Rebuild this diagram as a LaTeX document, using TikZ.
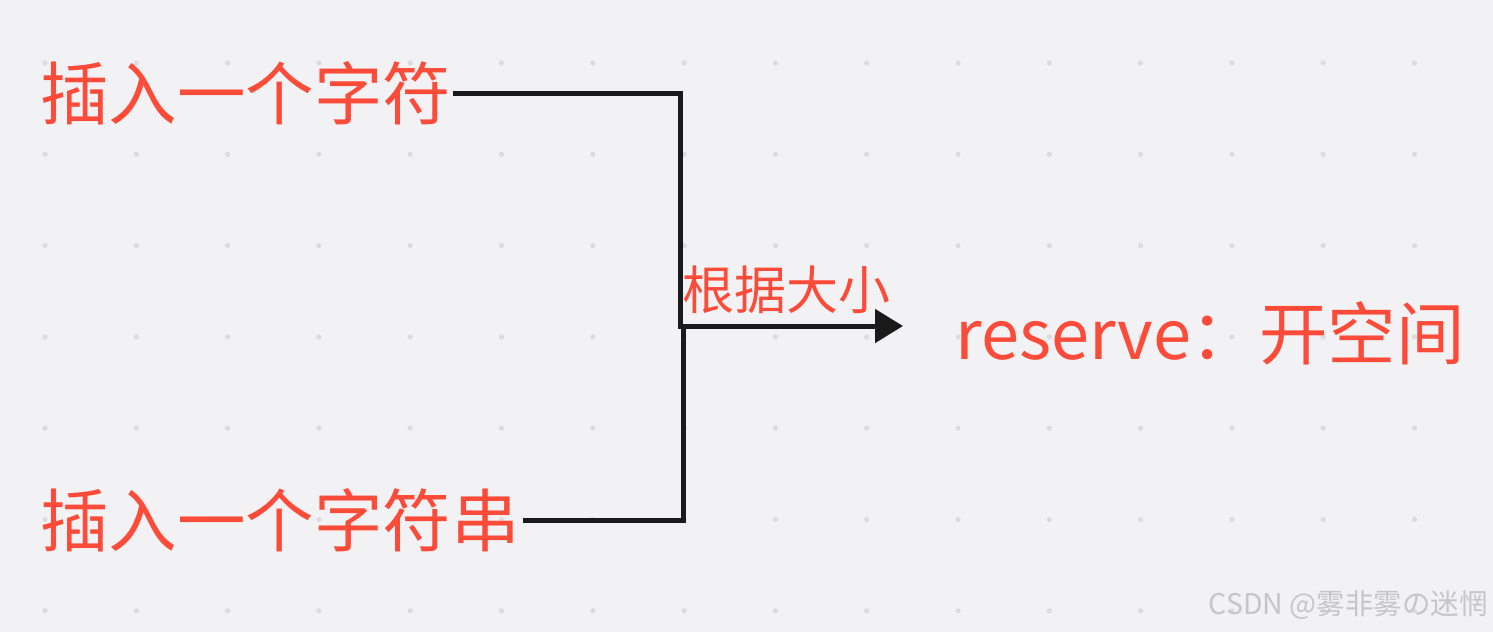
\documentclass[tikz,border=0pt]{standalone}
\usepackage{fontspec}
\setmainfont{Noto Sans CJK SC}
\usepackage{xcolor}
\usetikzlibrary{arrows.meta,positioning}
\definecolor{noteRed}{HTML}{FD4B3A}
\definecolor{noteInk}{HTML}{1A1A1A}
\definecolor{noteBack}{HTML}{F2F2F4}
\definecolor{noteDot}{HTML}{DCDCE0}
\definecolor{noteMark}{HTML}{C6C6CA}

\begin{document}
\begin{tikzpicture}[x=1pt,y=-1pt,
    bigtext/.style={text=noteRed, font=\fontsize{68.5}{72}\selectfont, inner sep=0pt, anchor=west},
    sizetext/.style={text=noteRed, font=\fontsize{52}{55}\selectfont, inner sep=0pt},
    wire/.style={draw=noteInk, line width=5pt},
    marktext/.style={text=noteMark, font=\fontsize{28.5}{31}\selectfont, inner sep=0pt, anchor=east}]
  \fill[noteBack] (0,0) rectangle (1493,632);
  \useasboundingbox (0,0) rectangle (1493,632);
  % dot grid
  \foreach \i in {0,...,15}
    \foreach \j in {0,...,6}
      \fill[noteDot] (45+91.3*\i, 63+91.3*\j) circle (2.6pt);
  \node[bigtext] (ins) at (40,93) {插入一个字符};
  \node[bigtext] (insstr) at (40,520) {插入一个字符串};
  \node[bigtext] (res) at (955,333) {reserve：开空间};
  \coordinate (join) at (680,326);
  \coordinate (joinlow) at (683,328);
  \coordinate (tip) at (903,326);
  \draw[wire, -{Triangle[length=28pt,width=33pt]}] ([xshift=2pt]ins.east) -| (join)
    -- node[sizetext, pos=0, anchor=south west, yshift=10pt] (size) {根据大小} (tip);
  \draw[wire] ([xshift=3pt]insstr.east) -| (joinlow);
  \node[marktext] (mark) at (1488,605) {CSDN @雾非雾の迷惘};
\end{tikzpicture}
\end{document}
